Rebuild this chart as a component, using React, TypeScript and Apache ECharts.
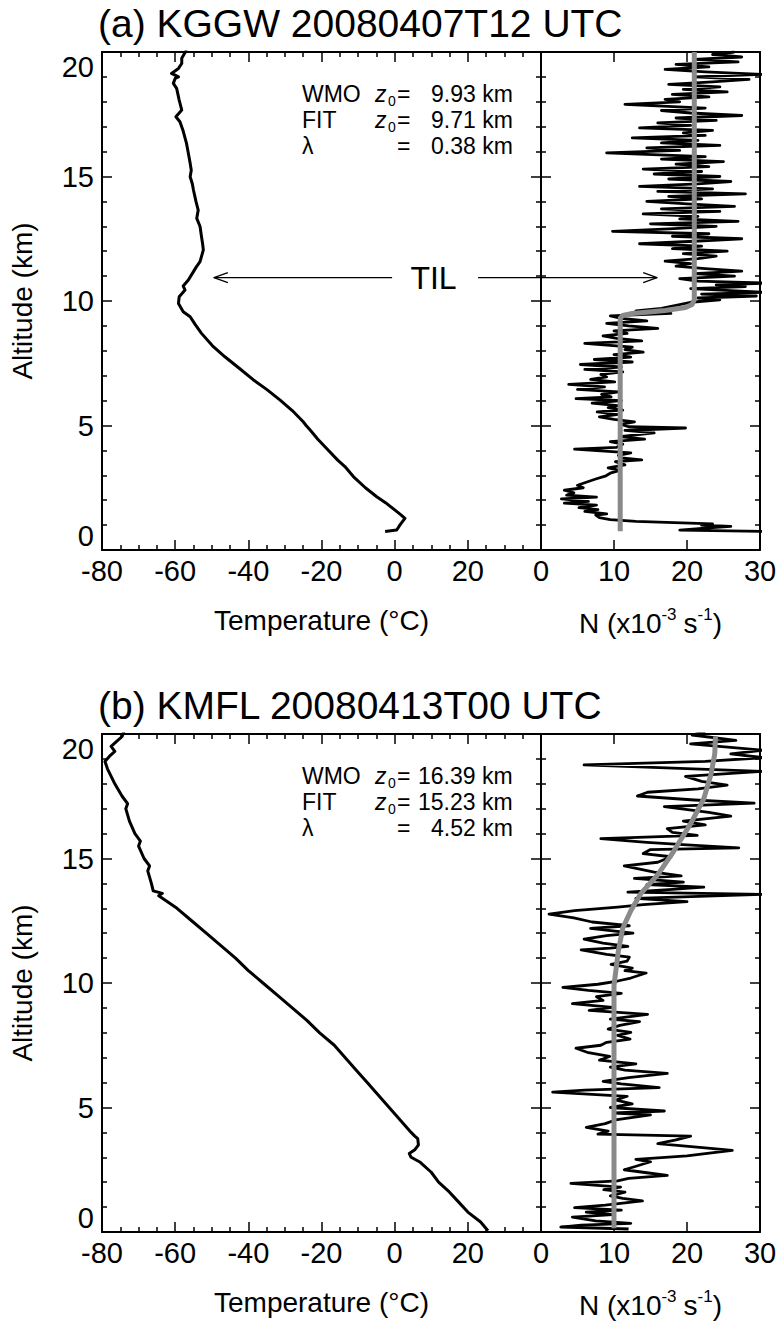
import React, { useEffect, useRef } from "react";
import * as echarts from "echarts";

const FONT = '"Liberation Sans", Arial, Helvetica, sans-serif';

const T_MIN = -80, T_MAX = 40, T_STEP = 20;
const N_MIN = 0, N_MAX = 30, N_STEP = 10;
const Z_MIN = 0, Z_MAX = 20, Z_STEP = 5;

// [temperature degC, altitude km]
const TEMP_A: number[][] = [
  [-2.6, 0.74], [0.5, 0.8], [1.0, 0.9], [1.5, 1.02], [2.8, 1.27], [1.8, 1.4], [0.1, 1.6], [-2.5, 1.9],
  [-4.9, 2.14], [-8.0, 2.5], [-11.3, 2.95], [-13.6, 3.35], [-15.5, 3.6], [-18.6, 4.08], [-21.0, 4.45],
  [-23.1, 4.82], [-24.2, 5.0], [-25.0, 5.15], [-28.0, 5.6], [-31.3, 6.02], [-35.0, 6.45], [-38.6, 6.83],
  [-42.5, 7.3], [-46.4, 7.76], [-49.8, 8.2], [-52.8, 8.7], [-54.5, 9.05], [-55.9, 9.37], [-57.8, 9.57],
  [-59.1, 9.9], [-58.9, 10.17], [-57.3, 10.44], [-57.8, 10.6], [-56.4, 10.84], [-55.0, 11.18], [-54.3, 11.35],
  [-53.2, 11.58], [-52.3, 12.05], [-52.5, 12.3], [-52.8, 12.58], [-53.2, 12.99], [-54.1, 13.32], [-53.7, 13.65],
  [-54.3, 13.99], [-55.0, 14.46], [-55.3, 14.7], [-55.9, 14.99], [-55.6, 15.25], [-55.9, 15.53], [-56.4, 15.93],
  [-56.9, 16.33], [-57.9, 16.87], [-58.7, 17.2], [-59.8, 17.4], [-58.2, 17.67], [-58.9, 18.07], [-59.6, 18.54],
  [-60.5, 18.74], [-60.0, 18.94], [-59.1, 19.0], [-61.0, 19.14], [-59.1, 19.34], [-58.2, 19.54], [-58.2, 19.75],
  [-56.9, 20.08],
];

// [N x1e-3 s^-1, altitude km]
const N_A: number[][] = [
  [30.5, 0.75], [19, 0.8], [22.5, 0.88], [26, 0.95], [22, 1.0], [23.5, 1.05], [13, 1.15], [9.5, 1.22], [8, 1.3],
  [7.5, 1.4], [9, 1.45], [6, 1.55], [7.8, 1.62], [5.2, 1.7], [7.6, 1.8], [3.2, 1.88], [6.5, 1.95], [2.8, 2.05],
  [7.6, 2.12], [3.5, 2.2], [4.5, 2.3], [3.2, 2.4], [5.8, 2.5], [5.0, 2.6], [6.2, 2.72], [7.5, 2.85], [8.9, 2.98],
  [9.6, 3.1], [10.8, 3.2], [9.2, 3.3], [11.5, 3.42], [10.2, 3.55], [13.8, 3.62], [11.0, 3.7], [10.6, 3.8],
  [12.3, 3.9], [4.6, 4.05], [10.3, 4.12], [11.2, 4.25], [9.5, 4.35], [14.2, 4.45], [10.8, 4.55], [15.5, 4.7],
  [11.5, 4.8], [19.8, 4.9], [12.0, 4.95], [10.9, 5.05], [12.8, 5.15], [10.0, 5.25], [8.0, 5.35], [10.6, 5.45],
  [7.7, 5.55], [11.2, 5.62], [9.2, 5.72], [10.5, 5.8], [7.0, 5.9], [11.0, 6.0], [4.8, 6.08], [9.6, 6.15],
  [8.3, 6.25], [10.6, 6.35], [5.0, 6.45], [8.7, 6.55], [3.8, 6.65], [10.1, 6.75], [6.8, 6.85], [9.0, 6.95],
  [8.2, 7.05], [11.2, 7.15], [6.0, 7.25], [11.0, 7.35], [5.4, 7.45], [12.5, 7.55], [7.3, 7.65], [12.3, 7.75],
  [10.0, 7.85], [14.0, 7.95], [11.5, 8.05], [12.5, 8.15], [6.0, 8.3], [13.8, 8.4], [10.4, 8.5], [8.5, 8.6],
  [11.8, 8.7], [10.0, 8.8], [16.0, 8.9], [12.0, 9.0], [9.0, 9.1], [14.5, 9.2], [11.0, 9.3], [9.5, 9.4],
  [17.8, 9.5], [13.0, 9.6], [16.5, 9.7], [19.0, 9.85], [20.5, 9.95], [24.5, 10.05], [21.5, 10.12], [29.5, 10.2],
  [22.0, 10.28], [30.5, 10.35], [26.0, 10.42], [20.5, 10.5], [28.0, 10.58], [24.0, 10.65], [31, 10.72],
  [21.5, 10.8], [19.0, 10.9], [26.5, 11.0], [21.0, 11.1], [27.5, 11.2], [22.5, 11.3], [18.5, 11.4], [20.5, 11.5],
  [17.0, 11.6], [21.5, 11.7], [24.0, 11.8], [19.5, 11.9], [25.5, 12.0], [18.0, 12.1], [22.0, 12.2], [13.5, 12.3],
  [21.0, 12.4], [27.5, 12.5], [18.0, 12.6], [23.0, 12.7], [9.8, 12.8], [17.5, 12.9], [24.0, 13.0], [15.0, 13.1],
  [27.0, 13.2], [19.0, 13.3], [21.5, 13.4], [14.0, 13.5], [24.5, 13.6], [16.5, 13.7], [26.5, 13.8], [20.0, 13.9],
  [14.5, 14.0], [22.0, 14.1], [17.5, 14.2], [28.0, 14.3], [16.0, 14.4], [23.5, 14.5], [13.5, 14.6], [21.5, 14.7],
  [26.0, 14.8], [17.5, 14.9], [24.5, 15.0], [15.5, 15.1], [22.0, 15.2], [14.0, 15.3], [23.0, 15.4], [18.5, 15.5],
  [25.0, 15.6], [16.5, 15.7], [22.5, 15.8], [9.0, 15.95], [19.0, 16.05], [14.5, 16.15], [24.5, 16.25],
  [16.5, 16.35], [21.5, 16.45], [12.5, 16.55], [22.5, 16.65], [19.5, 16.75], [23.5, 16.85], [13.5, 16.95],
  [20.5, 17.05], [16.0, 17.15], [24.0, 17.25], [18.5, 17.35], [27.5, 17.45], [20.5, 17.55], [16.5, 17.65],
  [22.5, 17.75], [11.5, 17.9], [19.0, 18.0], [17.0, 18.1], [23.0, 18.2], [18.0, 18.3], [25.5, 18.4], [19.5, 18.5],
  [24.5, 18.6], [17.5, 18.7], [23.5, 18.8], [28.5, 18.9], [21.0, 19.0], [30.5, 19.1], [22.5, 19.2], [17.0, 19.3],
  [23.0, 19.4], [18.5, 19.5], [27.0, 19.6], [21.0, 19.7], [27.5, 19.8], [23.5, 19.9], [26.5, 20.0],
];

const FIT_A: number[][] = [
  [10.85, 0.75], [10.85, 9.3], [11.2, 9.42], [12.5, 9.5], [17.0, 9.62], [19.8, 9.74], [20.7, 9.86], [21.0, 10.05],
  [21.0, 20.0],
];

const TEMP_B: number[][] = [
  [25.5, 0.05], [23.5, 0.4], [20.0, 0.8], [17.5, 1.2], [15.0, 1.6], [12.0, 2.0], [10.0, 2.4], [7.0, 2.8],
  [4.5, 3.0], [4.0, 3.15], [5.5, 3.3], [6.5, 3.5], [6.3, 3.75], [5.5, 3.85], [4.5, 4.0], [1.5, 4.5], [-1.5, 5.0],
  [-4.5, 5.5], [-7.5, 6.0], [-10.5, 6.5], [-13.5, 7.0], [-16.5, 7.5], [-20.5, 8.0], [-24.0, 8.5], [-28.0, 9.0],
  [-32.0, 9.5], [-36.0, 10.0], [-40.0, 10.5], [-43.5, 11.0], [-47.5, 11.5], [-51.5, 12.0], [-55.5, 12.5],
  [-59.5, 13.0], [-62.5, 13.3], [-64.5, 13.5], [-63.5, 13.6], [-66.0, 13.7], [-66.5, 14.0], [-67.5, 14.5],
  [-67.0, 14.7], [-68.5, 15.0], [-70.0, 15.5], [-69.5, 15.7], [-71.0, 16.0], [-72.5, 16.5], [-73.5, 17.0],
  [-73.0, 17.2], [-74.5, 17.5], [-76.5, 18.0], [-77.5, 18.3], [-78.5, 18.6], [-79.2, 18.9], [-78.0, 19.1],
  [-76.5, 19.3], [-77.5, 19.5], [-76.0, 19.7], [-74.5, 19.9], [-74.0, 20.1],
];

const N_B: number[][] = [
  [12.0, 0.12], [2.7, 0.2], [5.5, 0.28], [12.3, 0.35], [7.5, 0.45], [4.3, 0.6], [9.8, 0.7], [6.2, 0.8],
  [11.0, 0.88], [4.6, 0.98], [8.8, 1.08], [13.9, 1.25], [11.2, 1.35], [9.5, 1.45], [11.5, 1.6], [8.6, 1.7],
  [10.9, 1.8], [4.1, 1.95], [10.5, 2.05], [12.0, 2.15], [17.3, 2.27], [14.5, 2.38], [11.4, 2.5], [12.8, 2.62],
  [15.0, 2.82], [13.0, 2.92], [20.0, 3.06], [22.5, 3.15], [26.2, 3.28], [22.5, 3.38], [16.0, 3.55], [18.5, 3.7],
  [20.5, 3.85], [7.8, 3.93], [9.2, 4.05], [6.2, 4.2], [8.8, 4.35], [10.2, 4.5], [15.0, 4.7], [10.0, 4.78],
  [16.9, 4.86], [9.5, 5.0], [12.5, 5.15], [10.3, 5.3], [11.8, 5.45], [1.6, 5.62], [6.0, 5.7], [16.2, 5.8],
  [11.0, 5.95], [8.5, 6.05], [12.0, 6.2], [17.3, 6.37], [11.5, 6.5], [9.5, 6.62], [13.0, 6.75], [8.0, 6.9],
  [9.4, 7.05], [6.5, 7.2], [4.8, 7.38], [8.2, 7.5], [9.0, 7.62], [12.2, 7.75], [10.5, 7.9], [12.3, 8.02],
  [9.2, 8.15], [10.8, 8.3], [13.5, 8.45], [9.5, 8.55], [14.6, 8.74], [6.6, 8.9], [9.8, 9.02], [4.3, 9.17],
  [8.5, 9.3], [7.6, 9.45], [11.0, 9.58], [6.5, 9.7], [3.0, 9.82], [7.8, 9.95], [10.5, 10.08], [12.3, 10.2],
  [14.4, 10.4], [11.5, 10.5], [12.5, 10.6], [9.6, 10.75], [11.8, 10.88], [12.1, 11.04], [9.0, 11.15],
  [5.5, 11.33], [9.5, 11.4], [11.9, 11.47], [8.5, 11.6], [5.9, 11.76], [9.0, 11.9], [12.6, 12.0], [6.8, 12.19],
  [12.1, 12.3], [7.0, 12.45], [4.5, 12.62], [1.1, 12.77], [4.6, 12.91], [10.5, 13.05], [14.0, 13.15],
  [20.0, 13.27], [13.0, 13.4], [30.5, 13.56], [11.9, 13.65], [17.5, 13.75], [22.3, 13.85], [14.5, 13.95],
  [19.5, 14.05], [12.8, 14.2], [19.2, 14.3], [15.5, 14.45], [11.4, 14.7], [16.0, 14.85], [17.8, 15.07],
  [14.0, 15.2], [15.0, 15.36], [27.1, 15.43], [20.0, 15.55], [14.5, 15.65], [8.2, 15.8], [21.4, 15.93],
  [18.0, 16.05], [17.3, 16.2], [22.5, 16.35], [19.5, 16.5], [26.0, 16.7], [23.0, 16.85], [16.9, 17.08],
  [29.2, 17.22], [21.0, 17.35], [13.2, 17.51], [14.6, 17.66], [21.5, 17.8], [25.5, 17.95], [22.0, 18.1],
  [19.8, 18.3], [30.5, 18.5], [5.9, 18.76], [22.5, 18.9], [30.5, 19.05], [26.0, 19.2], [30.5, 19.35],
  [20.5, 19.6], [26.7, 19.74], [20.7, 19.96], [22.5, 20.1],
];

const FIT_B: number[][] = [
  [10.0, 0.15], [10.0, 9.9], [10.3, 10.6], [10.6, 11.3], [11.2, 12.2], [12.3, 12.9], [13.7, 13.6], [16.0, 14.35],
  [18.2, 15.3], [20.5, 16.4], [22.3, 17.4], [23.3, 18.4], [23.8, 19.2], [23.9, 19.9],
];

const TITLES = ["(a) KGGW 20080407T12 UTC", "(b) KMFL 20080413T00 UTC"];
const WMO_Z0 = ["9.93", "16.39"];
const FIT_Z0 = ["9.71", "15.23"];
const LAMBDA = ["0.38", "4.52"];

// TIL annotation (panel a), in data units
const TIL_Z = 10.94;
const TIL_LEFT_T = [-0.7, -49.4];
const TIL_RIGHT_T = [22.8, 40];
const TIL_RIGHT_N = [0, 15.9];

// layout
const PANEL_TOP = [52, 734];
const PANEL_H = 498;
const T_LEFT = 102, T_W = 439, N_LEFT = 541, N_W = 219;

const BLACK = "#000000";
const GRAY = "#8a8a8a";

function xAx(gridIndex: number, isT: boolean, pos: "bottom" | "top") {
  const name = pos === "bottom"
    ? (isT ? "Temperature (°C)" : "{n|N (x10}{sup|-3}{s|s}{sup|-1}{n|)}")
    : "";
  return {
    type: "value",
    gridIndex,
    position: pos,
    min: isT ? T_MIN : N_MIN,
    max: isT ? T_MAX : N_MAX,
    interval: isT ? T_STEP : N_STEP,
    axisLine: { show: true, onZero: false, lineStyle: { color: BLACK, width: 2 } },
    axisTick: { show: true, inside: true, length: 10, lineStyle: { color: BLACK, width: 1.5 } },
    minorTick: { show: isT, splitNumber: 4, length: 5, lineStyle: { color: BLACK, width: 1.5 } },
    splitLine: { show: false },
    minorSplitLine: { show: false },
    axisLabel: {
      show: pos === "bottom",
      color: BLACK,
      fontFamily: FONT,
      fontSize: 29,
      margin: 6,
      showMinLabel: true,
      showMaxLabel: !isT,
    },
    name,
    nameLocation: "middle",
    nameGap: 56,
    nameTextStyle: {
      color: BLACK,
      fontFamily: FONT,
      fontSize: 28,
      rich: {
        n: { fontSize: 28, fontFamily: FONT, color: BLACK, lineHeight: 34 },
        s: { fontSize: 28, fontFamily: FONT, color: BLACK, lineHeight: 34, padding: [0, 0, 0, 7] },
        sup: { fontSize: 17, fontFamily: FONT, color: BLACK, lineHeight: 17, verticalAlign: "top" },
      },
    },
  };
}

function yAx(gridIndex: number, pos: "left" | "right", labels: boolean) {
  return {
    type: "value",
    gridIndex,
    position: pos,
    min: Z_MIN,
    max: Z_MAX,
    interval: Z_STEP,
    axisLine: { show: true, onZero: false, lineStyle: { color: BLACK, width: 2 } },
    axisTick: { show: true, inside: true, length: 10, lineStyle: { color: BLACK, width: 1.5 } },
    minorTick: { show: true, splitNumber: 5, length: 5, lineStyle: { color: BLACK, width: 1.5 } },
    splitLine: { show: false },
    minorSplitLine: { show: false },
    axisLabel: {
      show: labels,
      color: BLACK,
      fontFamily: FONT,
      fontSize: 29,
      margin: 8,
      verticalAlignMinLabel: "bottom",
      verticalAlignMaxLabel: "top",
    },
    name: labels ? "Altitude (km)" : "",
    nameLocation: "middle",
    nameGap: 66,
    nameTextStyle: { color: BLACK, fontFamily: FONT, fontSize: 28 },
  };
}

function lineSeries(name: string, data: number[][], axisIdx: number, color: string, width: number, z = 2) {
  return {
    name,
    type: "line",
    data,
    xAxisIndex: axisIdx,
    yAxisIndex: axisIdx,
    symbol: "none",
    showSymbol: false,
    clip: true,
    silent: true,
    z,
    lineStyle: { color, width, join: "round" },
  };
}

function textEl(x: number, y: number, text: string, fontSize: number, extra: any = {}) {
  return {
    type: "text",
    x,
    y,
    silent: true,
    style: {
      text,
      fill: BLACK,
      fontFamily: FONT,
      fontSize,
      align: "left",
      textAlign: "left",
      verticalAlign: "middle",
      textVerticalAlign: "middle",
      ...extra,
    },
  };
}

const ANN_FS = 23;
const SUB_FS = 14;

function panelGraphics(p: number) {
  const top = PANEL_TOP[p];
  const els: any[] = [];
  // title: baseline ~15px above the frame
  const titleBase = top - 15;
  els.push(textEl(98, titleBase - 0.3465 * 39, TITLES[p], 39));
  const baselines = [top + 50, top + 76, top + 102];
  const cy = (b: number) => b - 0.3465 * ANN_FS;
  const subY = (b: number) => b + 4 - 0.3465 * SUB_FS;
  const valX = (v: string) => (v.indexOf(".") >= 2 ? 418 : 431);
  const labels = ["WMO", "FIT", "λ"];
  const vals = [WMO_Z0[p], FIT_Z0[p], LAMBDA[p]];
  for (let r = 0; r < 3; r++) {
    const b = baselines[r];
    els.push(textEl(302, cy(b), labels[r], ANN_FS));
    if (r < 2) {
      els.push(textEl(375, cy(b), "z", ANN_FS, { fontStyle: "italic" }));
      els.push(textEl(388, subY(b), "0", SUB_FS));
    }
    els.push(textEl(397, cy(b), "=", ANN_FS));
    els.push(textEl(valX(vals[r]), cy(b), vals[r] + " km", ANN_FS));
  }
  return els;
}

export default function App() {
  const ref = useRef<HTMLDivElement>(null);

  useEffect(() => {
    document.body.style.margin = "0";
    if (!ref.current) return;
    const chart = echarts.init(ref.current, undefined, { renderer: "svg" });

    const grids: any[] = [];
    const xAxes: any[] = [];
    const yAxes: any[] = [];
    for (let p = 0; p < 2; p++) {
      for (let k = 0; k < 2; k++) {
        const g = p * 2 + k;
        const isT = k === 0;
        grids.push({
          left: isT ? T_LEFT : N_LEFT,
          top: PANEL_TOP[p],
          width: isT ? T_W : N_W,
          height: PANEL_H,
          containLabel: false,
        });
        xAxes.push(xAx(g, isT, "bottom"));
        xAxes.push(xAx(g, isT, "top"));
        yAxes.push(yAx(g, "left", isT));
        yAxes.push(yAx(g, "right", false));
      }
    }

    // axis index for grid g is 2*g (bottom x / left y)
    const series: any[] = [
      lineSeries("Temperature (a)", TEMP_A, 0, BLACK, 3),
      lineSeries("N (a)", N_A, 2, BLACK, 2.8),
      lineSeries("Fit (a)", FIT_A, 2, GRAY, 5, 3),
      lineSeries("Temperature (b)", TEMP_B, 4, BLACK, 3),
      lineSeries("N (b)", N_B, 6, BLACK, 2.8),
      lineSeries("Fit (b)", FIT_B, 6, GRAY, 5, 3),
      // TIL arrows
      lineSeries("TIL left", [[TIL_LEFT_T[0], TIL_Z], [TIL_LEFT_T[1], TIL_Z]], 0, BLACK, 1.3),
      lineSeries("TIL left head", [[TIL_LEFT_T[1] + 3.8, TIL_Z + 0.2], [TIL_LEFT_T[1], TIL_Z], [TIL_LEFT_T[1] + 3.8, TIL_Z - 0.2]], 0, BLACK, 1.3),
      lineSeries("TIL right a", [[TIL_RIGHT_T[0], TIL_Z], [TIL_RIGHT_T[1], TIL_Z]], 0, BLACK, 1.3),
      lineSeries("TIL right b", [[TIL_RIGHT_N[0], TIL_Z], [TIL_RIGHT_N[1], TIL_Z]], 2, BLACK, 1.3),
      lineSeries("TIL right head", [[TIL_RIGHT_N[1] - 1.9, TIL_Z + 0.2], [TIL_RIGHT_N[1], TIL_Z], [TIL_RIGHT_N[1] - 1.9, TIL_Z - 0.2]], 2, BLACK, 1.3),
    ];

    const graphics: any[] = [...panelGraphics(0), ...panelGraphics(1)];
    graphics.push(textEl(433.5, 278, "TIL", 32, { align: "center", textAlign: "center" }));

    chart.setOption({
      animation: false,
      backgroundColor: "#ffffff",
      textStyle: { fontFamily: FONT, color: BLACK },
      grid: grids,
      xAxis: xAxes,
      yAxis: yAxes,
      series,
      graphic: { elements: graphics },
    });

    return () => chart.dispose();
  }, []);

  return <div ref={ref} style={{ width: 781, height: 1329 }} />;
}
